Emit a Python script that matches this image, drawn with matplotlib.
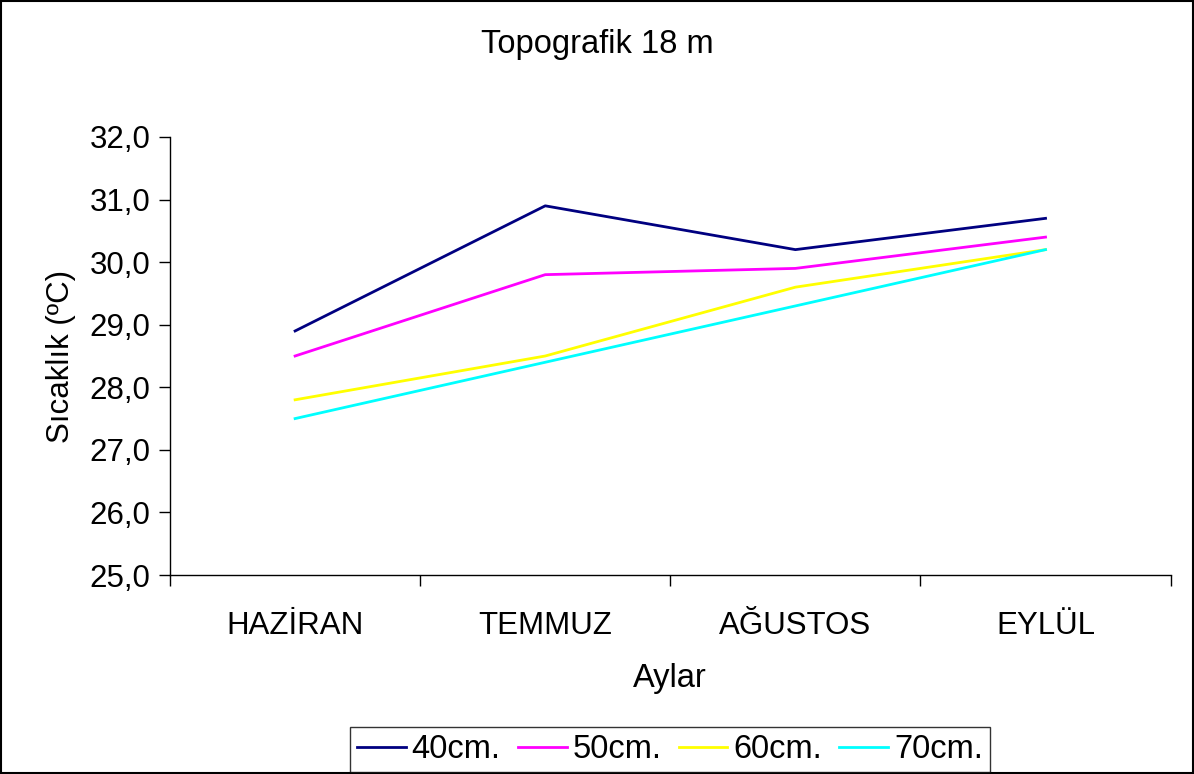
import matplotlib.pyplot as plt
import matplotlib.ticker as mticker
from matplotlib.patches import Rectangle

plt.rcParams['font.family'] = ['Liberation Sans', 'DejaVu Sans']

aylar = ['HAZİRAN', 'TEMMUZ', 'AĞUSTOS', 'EYLÜL']
seriler = ['40cm.', '50cm.', '60cm.', '70cm.']
d40 = [28.9, 30.9, 30.2, 30.7]
d50 = [28.5, 29.8, 29.9, 30.4]
d60 = [27.8, 28.5, 29.6, 30.2]
d70 = [27.5, 28.4, 29.3, 30.2]
renkler = ['#000080', '#FF00FF', '#FFFF00', '#00FFFF']

fig = plt.figure(figsize=(11.94, 7.74), dpi=100)
ax = fig.add_axes([0.1424, 0.2571, 0.838, 0.5659])

x = range(len(aylar))
for vals, lab, c in zip([d40, d50, d60, d70], seriler, renkler):
    ax.plot(x, vals, color=c, lw=2, label=lab)

ax.set_xlim(-0.5, 3.5)
ax.set_ylim(25, 32)
ax.yaxis.set_major_locator(mticker.MultipleLocator(1))
ax.yaxis.set_major_formatter(mticker.FuncFormatter(lambda v, p: f"{v:.1f}".replace('.', ',')))
ax.set_xticks(list(x))
ax.set_xticklabels(aylar)
ax.set_xticks([-0.5, 0.5, 1.5, 2.5, 3.5], minor=True)
ax.tick_params(axis='x', which='major', length=0, labelsize=22.5, pad=26)
ax.tick_params(axis='x', which='minor', length=8, width=1)
ax.tick_params(axis='y', which='major', length=8, width=1, labelsize=22.5, pad=6)

for s in ['top', 'right']:
    ax.spines[s].set_visible(False)
ax.spines['left'].set_linewidth(1)
ax.spines['bottom'].set_linewidth(1)

ax.set_ylabel('Sıcaklık (ºC)', fontsize=22.5, labelpad=10)
ax.set_xlabel('Aylar', fontsize=23.5, labelpad=16)
fig.text(0.5, 0.942, 'Topografik 18 m', ha='center', va='center', fontsize=23.5)

leg = fig.legend(loc='center', bbox_to_anchor=(0.561, 0.032), ncol=4, fontsize=23.5,
                 frameon=True, fancybox=False, edgecolor='black', handlelength=1.5,
                 handletextpad=0.18, columnspacing=0.52, borderpad=0.22, handleheight=0.5)
leg.get_frame().set_linewidth(1)

fig.patches.append(Rectangle((0.001, 0.001), 0.998, 0.998, transform=fig.transFigure,
                             fill=False, edgecolor='black', lw=1.5))

fig.savefig('out.png', dpi=100)
